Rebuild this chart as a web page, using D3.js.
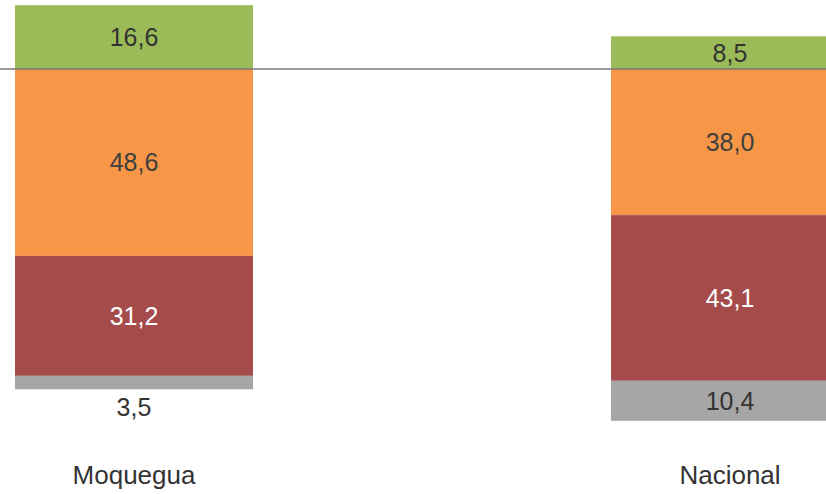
<!DOCTYPE html>
<html>
<head>
<meta charset="utf-8">
<script src="https://cdn.jsdelivr.net/npm/d3@7"></script>
<style>
  html, body { margin: 0; padding: 0; background: #fff; }
  svg { display: block; }
</style>
</head>
<body>
<svg id="chart" width="826" height="494"></svg>
<script>
const categories = ["Moquegua", "Nacional"];
const seriesNames = ["green", "orange", "red", "gray"];
// green above the line, the rest below (negative)
const greenValues  = [16.6, 8.5];
const orangeValues = [48.6, 38.0];
const redValues    = [31.2, 43.1];
const grayValues   = [3.5, 10.4];
const valueLabels = {
  green:  ["16,6", "8,5"],
  orange: ["48,6", "38,0"],
  red:    ["31,2", "43,1"],
  gray:   ["3,5", "10,4"]
};
const colors = { green: "#9BBB59", orange: "#F79646", red: "#A64B4B", gray: "#A6A6A6" };
const textColors = { green: "#333333", orange: "#404040", red: "#ffffff", gray: "#333333" };

const rows = categories.map((c, i) => ({
  category: c,
  green: greenValues[i],
  orange: -orangeValues[i],
  red: -redValues[i],
  gray: -grayValues[i]
}));

const stack = d3.stack().keys(seriesNames).offset(d3.stackOffsetDiverging);
const layers = stack(rows);

const svg = d3.select("#chart");
const x = d3.scaleBand().domain(categories).range([15, 849]).paddingInner(0.6007).paddingOuter(0);
const y = d3.scaleLinear().domain([0, -100]).range([69, 453.5]);

const g = svg.append("g");
layers.forEach(layer => {
  const key = layer.key;
  g.selectAll(null).data(layer).enter().append("rect")
    .attr("x", (d, i) => x(categories[i]))
    .attr("width", x.bandwidth())
    .attr("y", d => y(Math.max(d[0], d[1])))
    .attr("height", d => Math.abs(y(d[0]) - y(d[1])))
    .attr("fill", colors[key]);
});

// baseline
svg.append("line")
  .attr("x1", 0).attr("x2", 826)
  .attr("y1", y(0)).attr("y2", y(0))
  .attr("stroke", "#777").attr("stroke-width", 1.5);

// value labels
layers.forEach(layer => {
  const key = layer.key;
  layer.forEach((d, i) => {
    const v = Math.abs(d[1] - d[0]);
    const top = Math.min(y(d[0]), y(d[1]));
    const bot = Math.max(y(d[0]), y(d[1]));
    let cy, fill;
    if (v < 5) {
      cy = bot + 18;
      fill = "#333333";
    } else {
      cy = (top + bot) / 2;
      fill = textColors[key];
    }
    svg.append("text")
      .attr("x", x(categories[i]) + x.bandwidth() / 2)
      .attr("y", cy)
      .attr("text-anchor", "middle")
      .attr("dominant-baseline", "central")
      .attr("font-family", "Liberation Sans, Arial, sans-serif")
      .attr("font-size", 25)
      .attr("fill", fill)
      .text(valueLabels[key][i]);
  });
});

// category labels
svg.append("g").selectAll("text").data(categories).enter().append("text")
  .attr("x", d => x(d) + x.bandwidth() / 2)
  .attr("y", 484)
  .attr("text-anchor", "middle")
  .attr("font-family", "Liberation Sans, Arial, sans-serif")
  .attr("font-size", 26)
  .attr("fill", "#333333")
  .text(d => d);
</script>
</body>
</html>
